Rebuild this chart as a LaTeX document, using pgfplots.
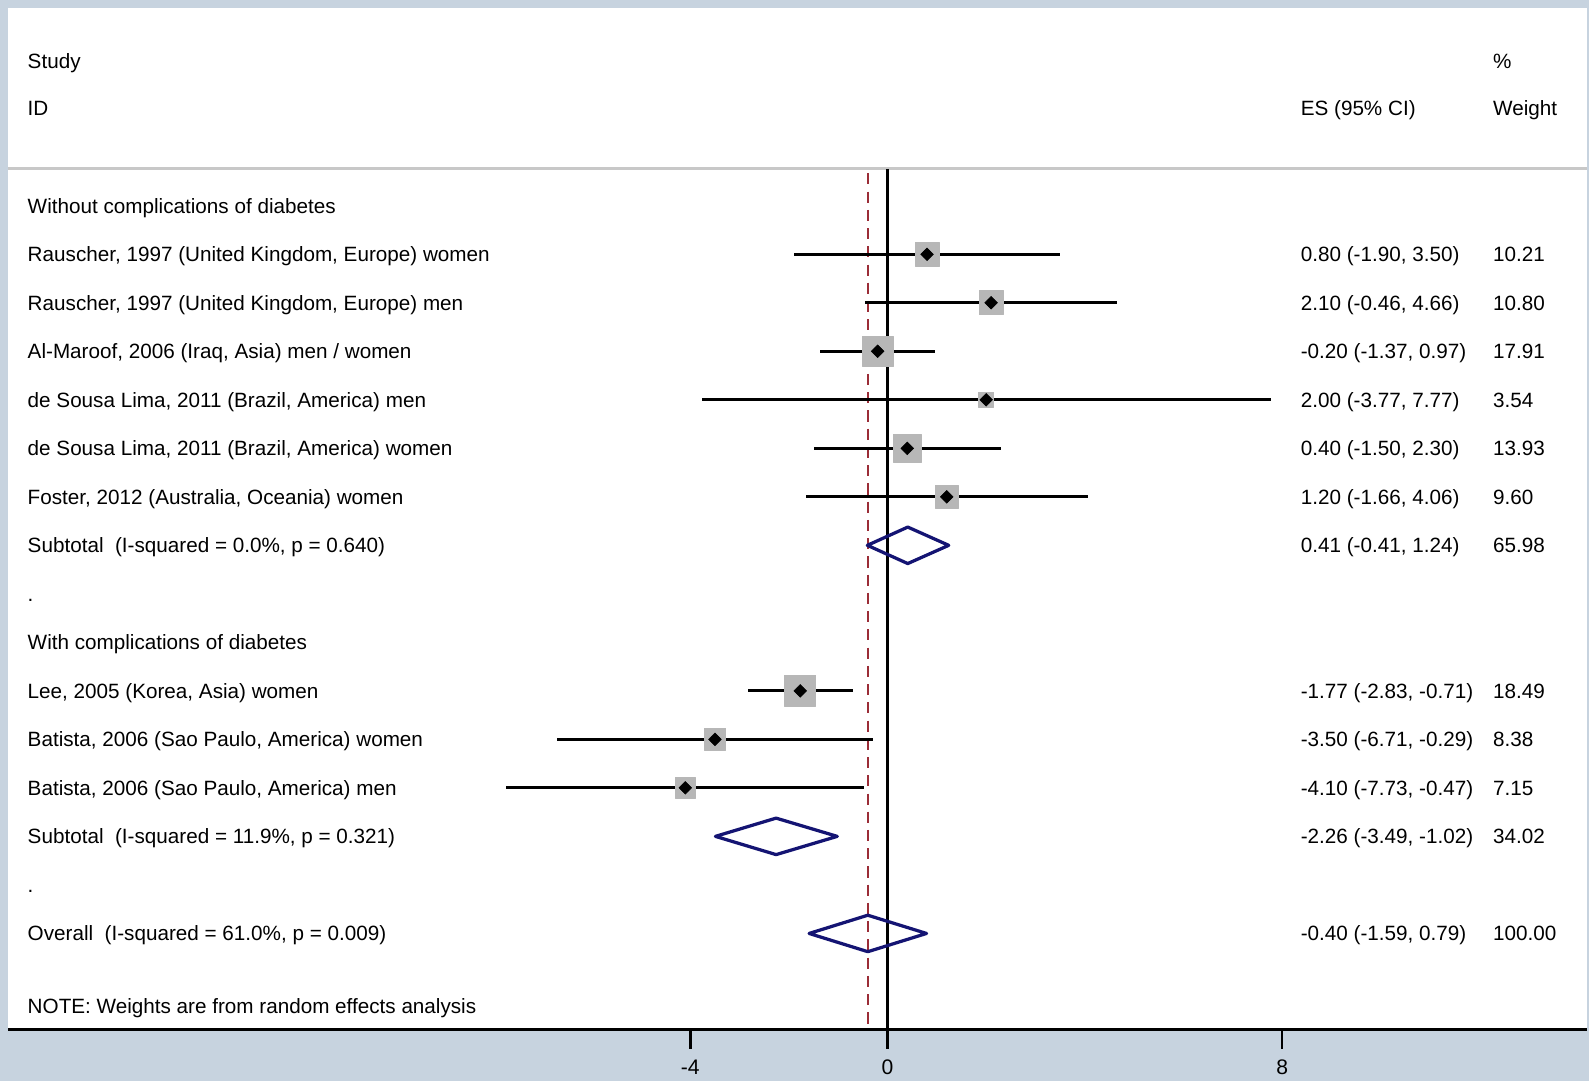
\documentclass[border=0pt]{standalone}
\usepackage{fontspec}
\setmainfont{Liberation Sans}
\usepackage{pgfplots}
\usepackage{pgfplotstable}
\pgfplotsset{compat=1.18}
\definecolor{bgcol}{RGB}{199,211,223}
\definecolor{boxgray}{RGB}{183,183,183}
\definecolor{sepgray}{RGB}{200,200,200}
\definecolor{refred}{RGB}{155,45,55}
\definecolor{diamblue}{RGB}{20,20,115}
\tikzset{txt/.style={anchor=west, inner sep=0pt, text height=7.2pt, text depth=0pt,
    font=\fontsize{10.2}{12}\selectfont}}

% studies: effect size, CI, weight, row position
\pgfplotstableread{
es    lo     hi    w      y
0.80  -1.90  3.50  10.21  250.9
2.10  -0.46  4.66  10.80  298.7
-0.20 -1.37  0.97  17.91  346.6
2.00  -3.77  7.77  3.54   394.5
0.40  -1.50  2.30  13.93  442.4
1.20  -1.66  4.06  9.60   490.2
-1.77 -2.83  -0.71 18.49  681.7
-3.50 -6.71  -0.29 8.38   729.6
-4.10 -7.73  -0.47 7.15   777.4
}\studies

\begin{document}
\begin{tikzpicture}
\fill[bgcol] (-4pt,-25.5pt) rectangle (780pt,508pt);
\begin{axis}[
  at={(0,0)}, anchor=south west,
  scale only axis, width=779pt, height=504pt,
  xmin=-17.83, xmax=14.18, ymin=8, ymax=1016, y dir=reverse,
  axis x line*=bottom, axis y line=none,
  axis background/.style={fill=white},
  axis line style={line width=1.6pt, black},
  xtick={-4,0,8}, xticklabels={-4,0,8},
  tick align=outside, major tick length=9.4pt,
  tick style={line width=1.3pt, black},
  xticklabel style={font=\fontsize{10.4}{12}\selectfont, yshift=-2pt},
  ytick=\empty,
  clip=false,
]
% separator line under header
\draw[sepgray, line width=1.6pt] (axis cs:-17.83,166) -- (axis cs:14.18,166);
% null line and overall effect line
\addplot[black, line width=1.3pt] coordinates {(0,167) (0,1016)};
\addplot[refred, line width=1.1pt, dash pattern=on 5.5pt off 3.5pt] coordinates {(-0.40,171) (-0.40,1016)};
% weight boxes
\addplot[scatter, only marks, mark=square*, point meta=\thisrow{w},
  scatter/use mapped color={draw=boxgray, fill=boxgray},
  visualization depends on={1.6*sqrt(\thisrow{w})+0.75 \as \msize},
  scatter/@pre marker code/.append style={/tikz/mark size=\msize},
  mark options={line width=0.4pt, line join=round}]
  table[x=es, y=y] {\studies};
% confidence intervals
\addplot[black, only marks, mark=none,
  error bars/.cd, x dir=both, x explicit, error mark=none,
  error bar style={line width=1.35pt, black, line cap=butt}]
  table[x=es, y=y, x error minus expr={\thisrow{es}-\thisrow{lo}},
        x error plus expr={\thisrow{hi}-\thisrow{es}}] {\studies};
% point estimates
\addplot[only marks, mark=square*, mark size=2.2pt,
  mark options={rotate=45, fill=black, draw=black, line width=0.3pt}]
  table[x=es, y=y] {\studies};
% pooled diamonds
\addplot[diamblue, line width=1.6pt, line join=round] coordinates
  {(-0.41,538.1) (0.41,520.1) (1.24,538.1) (0.41,556.1)} -- cycle;
\addplot[diamblue, line width=1.6pt, line join=round] coordinates
  {(-3.49,825.3) (-2.26,807.3) (-1.02,825.3) (-2.26,843.3)} -- cycle;
\addplot[diamblue, line width=1.6pt, line join=round] coordinates
  {(-1.59,921.1) (-0.40,903.1) (0.79,921.1) (-0.40,939.1)} -- cycle;
% header
\node[txt] at (axis cs:-17.44,60) {Study};
\node[txt] at (axis cs:-17.44,107) {ID};
\node[txt] at (axis cs:8.37,107) {ES (95\% CI)};
\node[txt] at (axis cs:12.27,60) {\%};
\node[txt] at (axis cs:12.27,107) {Weight};
% left column
\node[txt] at (axis cs:-17.44,203.0) {Without complications of diabetes};
\node[txt] at (axis cs:-17.44,250.9) {Rauscher, 1997 (United Kingdom, Europe) women};
\node[txt] at (axis cs:-17.44,298.7) {Rauscher, 1997 (United Kingdom, Europe) men};
\node[txt] at (axis cs:-17.44,346.6) {Al-Maroof, 2006 (Iraq, Asia) men / women};
\node[txt] at (axis cs:-17.44,394.5) {de Sousa Lima, 2011 (Brazil, America) men};
\node[txt] at (axis cs:-17.44,442.4) {de Sousa Lima, 2011 (Brazil, America) women};
\node[txt] at (axis cs:-17.44,490.2) {Foster, 2012 (Australia, Oceania) women};
\node[txt] at (axis cs:-17.44,538.1) {Subtotal\ \ (I-squared = 0.0\%, p = 0.640)};
\node[txt] at (axis cs:-17.44,586.0) {.};
\node[txt] at (axis cs:-17.44,633.8) {With complications of diabetes};
\node[txt] at (axis cs:-17.44,681.7) {Lee, 2005 (Korea, Asia) women};
\node[txt] at (axis cs:-17.44,729.6) {Batista, 2006 (Sao Paulo, America) women};
\node[txt] at (axis cs:-17.44,777.4) {Batista, 2006 (Sao Paulo, America) men};
\node[txt] at (axis cs:-17.44,825.3) {Subtotal\ \ (I-squared = 11.9\%, p = 0.321)};
\node[txt] at (axis cs:-17.44,873.2) {.};
\node[txt] at (axis cs:-17.44,921.1) {Overall\ \ (I-squared = 61.0\%, p = 0.009)};
\node[txt] at (axis cs:-17.44,993.0) {NOTE: Weights are from random effects analysis};
% ES column
\node[txt] at (axis cs:8.37,250.9) {0.80 (-1.90, 3.50)};
\node[txt] at (axis cs:8.37,298.7) {2.10 (-0.46, 4.66)};
\node[txt] at (axis cs:8.37,346.6) {-0.20 (-1.37, 0.97)};
\node[txt] at (axis cs:8.37,394.5) {2.00 (-3.77, 7.77)};
\node[txt] at (axis cs:8.37,442.4) {0.40 (-1.50, 2.30)};
\node[txt] at (axis cs:8.37,490.2) {1.20 (-1.66, 4.06)};
\node[txt] at (axis cs:8.37,538.1) {0.41 (-0.41, 1.24)};
\node[txt] at (axis cs:8.37,681.7) {-1.77 (-2.83, -0.71)};
\node[txt] at (axis cs:8.37,729.6) {-3.50 (-6.71, -0.29)};
\node[txt] at (axis cs:8.37,777.4) {-4.10 (-7.73, -0.47)};
\node[txt] at (axis cs:8.37,825.3) {-2.26 (-3.49, -1.02)};
\node[txt] at (axis cs:8.37,921.1) {-0.40 (-1.59, 0.79)};
% weight column
\node[txt] at (axis cs:12.27,250.9) {10.21};
\node[txt] at (axis cs:12.27,298.7) {10.80};
\node[txt] at (axis cs:12.27,346.6) {17.91};
\node[txt] at (axis cs:12.27,394.5) {3.54};
\node[txt] at (axis cs:12.27,442.4) {13.93};
\node[txt] at (axis cs:12.27,490.2) {9.60};
\node[txt] at (axis cs:12.27,538.1) {65.98};
\node[txt] at (axis cs:12.27,681.7) {18.49};
\node[txt] at (axis cs:12.27,729.6) {8.38};
\node[txt] at (axis cs:12.27,777.4) {7.15};
\node[txt] at (axis cs:12.27,825.3) {34.02};
\node[txt] at (axis cs:12.27,921.1) {100.00};
\end{axis}
\pgfresetboundingbox
\useasboundingbox (-4pt,-25.5pt) rectangle (780pt,508pt);
\end{tikzpicture}
\end{document}
